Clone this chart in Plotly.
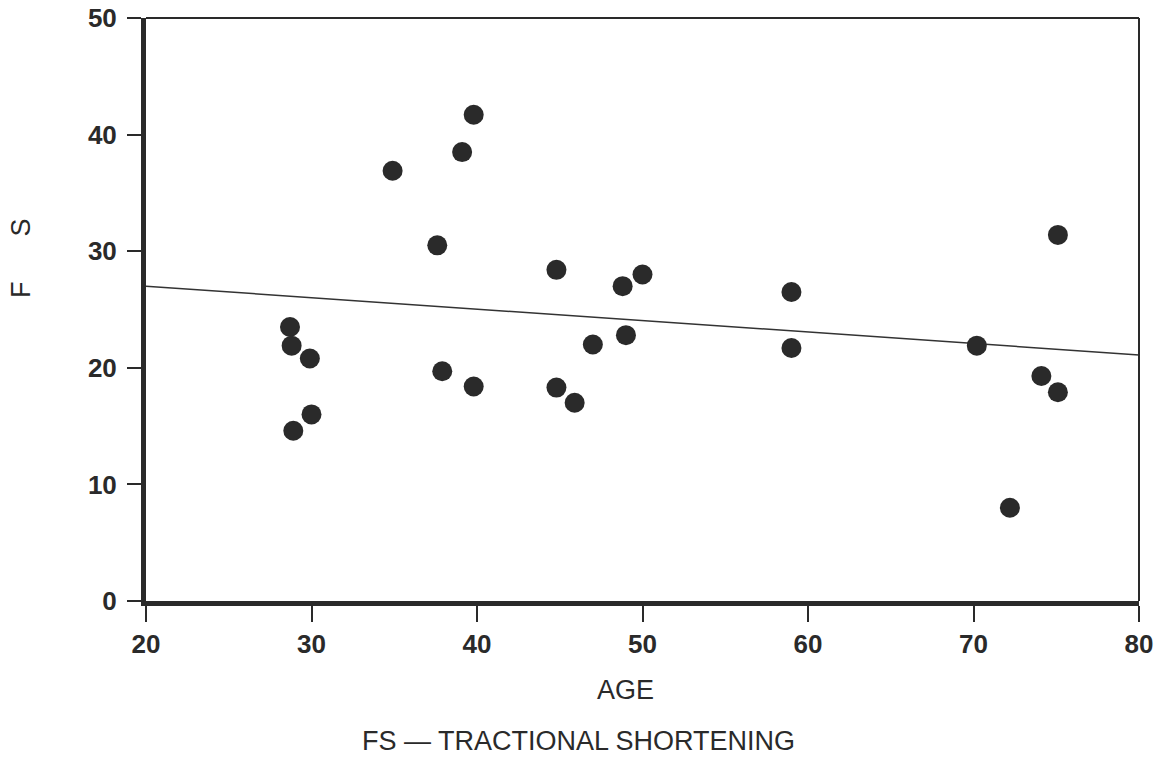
import plotly.graph_objects as go

age = [28.7, 28.8, 29.9, 28.9, 30.0, 34.9, 37.6, 37.9, 39.1, 39.8, 39.8, 44.8, 44.8,
       45.9, 47.0, 48.8, 49.0, 50.0, 59.0, 59.0, 70.2, 72.2, 74.1, 75.1, 75.1]
fs = [23.5, 21.9, 20.8, 14.6, 16.0, 36.9, 30.5, 19.7, 38.5, 41.7, 18.4, 28.4, 18.3,
      17.0, 22.0, 27.0, 22.8, 28.0, 26.5, 21.7, 21.9, 8.0, 19.3, 17.9, 31.4]
fit_x = [20, 80]
fit_y = [27.0, 21.1]
x_ticks = [20, 30, 40, 50, 60, 70, 80]
y_ticks = [0, 10, 20, 30, 40, 50]

INK = "#2a2a2a"
FONT = "Liberation Sans, Arial, sans-serif"

fig = go.Figure()
fig.add_trace(go.Scatter(x=fit_x, y=fit_y, mode="lines",
                         line=dict(color="#333333", width=1.5), showlegend=False))
fig.add_trace(go.Scatter(x=age, y=fs, mode="markers",
                         marker=dict(size=20, color=INK, line=dict(width=0)),
                         showlegend=False))

fig.update_layout(
    width=1157, height=759,
    margin=dict(l=146, r=18, t=18, b=158, autoexpand=False),
    paper_bgcolor="white", plot_bgcolor="white",
    font=dict(family=FONT, color=INK),
    xaxis=dict(range=[20, 80], tickvals=x_ticks, showgrid=False, zeroline=False,
               automargin=False,
               showline=True, linecolor=INK, linewidth=5,
               ticks="outside", ticklen=16, tickwidth=2, tickcolor=INK,
               ticklabelstandoff=0,
               tickfont=dict(family=FONT, size=26, color=INK, weight="bold")),
    yaxis=dict(range=[0, 50], tickvals=y_ticks, showgrid=False, zeroline=False,
               automargin=False,
               showline=True, linecolor=INK, linewidth=5,
               ticks="outside", ticklen=14, tickwidth=2, tickcolor=INK,
               ticklabelstandoff=5,
               tickfont=dict(family=FONT, size=26, color=INK, weight="bold")),
    shapes=[
        dict(type="line", xref="paper", yref="paper", x0=0, x1=1, y0=1, y1=1,
             line=dict(color=INK, width=2)),
        dict(type="line", xref="paper", yref="paper", x0=1, x1=1, y0=0, y1=1,
             line=dict(color=INK, width=2)),
    ],
    annotations=[
        dict(text="AGE", xref="paper", yref="paper", x=(625 - 146) / 993, y=-(690 - 601) / 583,
             showarrow=False, xanchor="center", yanchor="middle",
             font=dict(family=FONT, size=27, color=INK)),
        dict(text="FS \u2014 TRACTIONAL SHORTENING", xref="paper", yref="paper",
             x=(578 - 146) / 993, y=-(741 - 601) / 583,
             showarrow=False, xanchor="center", yanchor="middle",
             font=dict(family=FONT, size=27, color=INK)),
        dict(text="F" + "&nbsp;" * 6 + "S", xref="paper", yref="paper",
             x=-(146 - 21) / 993, y=(601 - 258) / 583, textangle=-90,
             showarrow=False, xanchor="center", yanchor="middle",
             font=dict(family=FONT, size=27, color=INK)),
    ],
)

fig.write_html("out.html", config={"displayModeBar": False},
               post_script="document.body.style.margin='0';document.body.style.overflow='hidden';")
